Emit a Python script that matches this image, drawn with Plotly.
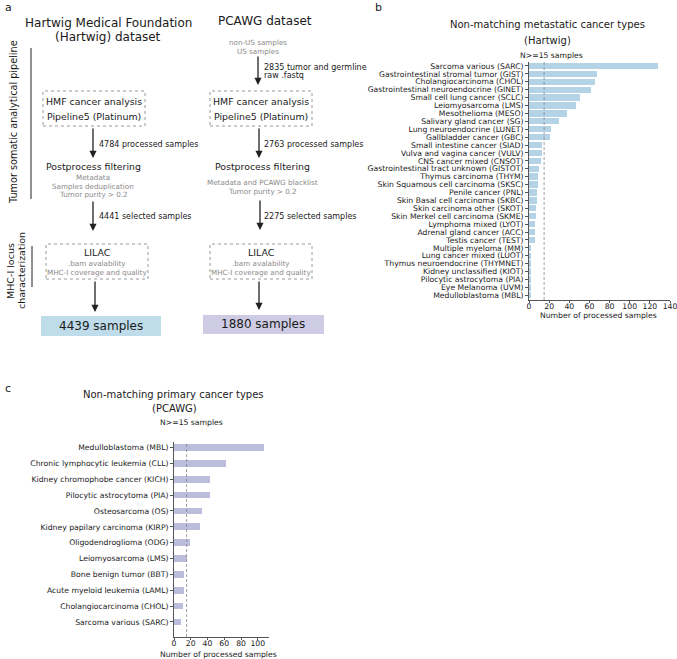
import plotly.graph_objects as go

W, H = 677, 659

# ---------------- data ----------------
met_types = [
    "Sarcoma various (SARC)", "Gastrointestinal stromal tumor (GIST)", "Cholangiocarcinoma (CHOL)",
    "Gastrointestinal neuroendocrine (GINET)", "Small cell lung cancer (SCLC)", "Leiomyosarcoma (LMS)",
    "Mesothelioma (MESO)", "Salivary gland cancer (SG)", "Lung neuroendocrine (LUNET)",
    "Gallbladder cancer (GBC)", "Small intestine cancer (SIAD)", "Vulva and vagina cancer (VULV)",
    "CNS cancer mixed (CNSOT)", "Gastrointestinal tract unknown (GISTOT)", "Thymus carcinoma (THYM)",
    "Skin Squamous cell carcinoma (SKSC)", "Penile cancer (PNL)", "Skin Basal cell carcinoma (SKBC)",
    "Skin carcinoma other (SKOT)", "Skin Merkel cell carcinoma (SKME)", "Lymphoma mixed (LYOT)",
    "Adrenal gland cancer (ACC)", "Testis cancer (TEST)", "Multiple myeloma (MM)",
    "Lung cancer mixed (LUOT)", "Thymus neuroendocrine (THYMNET)", "Kidney unclassified (KIOT)",
    "Pilocytic astrocytoma (PIA)", "Eye Melanoma (UVM)", "Medulloblastoma (MBL)",
]
met_counts = [128, 68, 66, 62, 51, 47, 38, 30, 22, 21, 13, 13, 12, 10, 9,
              9, 8, 8, 7, 7, 6, 6, 6, 2, 1, 1, 1, 1, 1, 1]

prim_types = [
    "Medulloblastoma (MBL)", "Chronic lymphocytic leukemia (CLL)", "Kidney chromophobe cancer (KICH)",
    "Pilocytic astrocytoma (PIA)", "Osteosarcoma (OS)", "Kidney papilary carcinoma (KIRP)",
    "Oligodendroglioma (ODG)", "Leiomyosarcoma (LMS)", "Bone benign tumor (BBT)",
    "Acute myeloid leukemia (LAML)", "Cholangiocarcinoma (CHOL)", "Sarcoma various (SARC)",
]
prim_counts = [108, 62, 43, 43, 33, 31, 19, 15, 12, 12, 11, 8]

threshold = 15
x_ticks_b = [0, 20, 40, 60, 80, 100, 120, 140]
x_ticks_c = [0, 20, 40, 60, 80, 100]
x_title = "Number of processed samples"

BLUE = "#b4d3e6"
PURPLE = "#bcbcdc"
TXT = "#1a1a1a"
GRAY = "#8a8a8a"
FONT = "DejaVu Sans"
TICK = 7.7


def px(x):
    return x / W


def py(y):
    return 1 - y / H


fig = go.Figure()

nb = len(met_types)
nc = len(prim_types)

fig.add_trace(go.Bar(x=met_counts, y=met_types, orientation="h", marker_color=BLUE,
                     marker_line_width=0, width=0.8, xaxis="x", yaxis="y", showlegend=False))
fig.add_trace(go.Bar(x=prim_counts, y=prim_types, orientation="h", marker_color=PURPLE,
                     marker_line_width=0, width=0.42, xaxis="x2", yaxis="y2", showlegend=False))

axis_common = dict(showline=True, linecolor="#555", linewidth=0.8, ticks="outside", ticklen=3,
                   tickcolor="#555", tickwidth=0.8, showgrid=False, zeroline=False,
                   tickfont=dict(family=FONT, size=TICK, color=TXT), automargin=False,
                   ticklabeloverflow="allow")
xaxis_extra = dict(ticklen=2, ticklabelstandoff=-3)

fig.update_layout(
    width=W, height=H, margin=dict(l=0, r=0, t=0, b=0),
    paper_bgcolor="white", plot_bgcolor="white", bargap=0,
    font=dict(family=FONT, color=TXT),
    xaxis=dict(domain=[px(529), px(670)], range=[0, 140], tickmode="array", tickvals=x_ticks_b,
               anchor="y", **{**axis_common, **xaxis_extra}),
    yaxis=dict(domain=[py(300), py(62)], type="category", categoryarray=met_types,
               tickmode="array", tickvals=met_types, ticktext=met_types,
               range=[nb - 0.4, -0.5], anchor="x", **axis_common),
    xaxis2=dict(domain=[px(174), px(269)], range=[0, 113.4], tickmode="array", tickvals=x_ticks_c,
                anchor="y2", **{**axis_common, **xaxis_extra}),
    yaxis2=dict(domain=[py(637), py(442)], type="category", categoryarray=prim_types,
                tickmode="array", tickvals=prim_types, ticktext=prim_types,
                range=[nc - 0.05, -0.35], anchor="x2", **axis_common),
)

# threshold dashed lines
for xr, yr in (("x", "y domain"), ("x2", "y2 domain")):
    fig.add_shape(type="line", xref=xr, yref=yr, x0=threshold, x1=threshold, y0=0, y1=1,
                  line=dict(color="#888", width=0.8, dash="3px,2px"))

ann = []


def text(x, y, s, size=10, color=TXT, xanchor="center", angle=0):
    ann.append(dict(x=px(x), y=py(y), xref="paper", yref="paper", text=s, showarrow=False,
                    xanchor=xanchor, yanchor="middle", textangle=angle,
                    font=dict(family=FONT, size=size, color=color)))


def arrow(x, y0, y1):
    ann.append(dict(x=px(x), y=py(y1), xref="paper", yref="paper", ax=0, ay=-(y1 - y0),
                    axref="pixel", ayref="pixel", text="", showarrow=True, arrowhead=2,
                    arrowsize=1.1, arrowwidth=1.3, arrowcolor="#222"))


def box(x0, y0, x1, y1, fill=None):
    if fill:
        fig.add_shape(type="rect", xref="paper", yref="paper", x0=px(x0), x1=px(x1), y0=py(y1), y1=py(y0),
                      fillcolor=fill, line=dict(width=0), layer="below")
    else:
        fig.add_shape(type="rect", xref="paper", yref="paper", x0=px(x0), x1=px(x1), y0=py(y1), y1=py(y0),
                      line=dict(color="#9a9a9a", width=1, dash="dot"))


def vline(x, y0, y1):
    fig.add_shape(type="line", xref="paper", yref="paper", x0=px(x), x1=px(x), y0=py(y1), y1=py(y0),
                  line=dict(color="#222", width=1))


MAIN = 9.4
SMALL = 7.2
LAB = 8
HEAD = 12
PTITLE = 10

# ---------------- panel a ----------------
text(3, 8, "a", 11, xanchor="left")
text(108, 23, "Hartwig Medical Foundation", HEAD)
text(108, 37, "(Hartwig) dataset", HEAD)
text(265, 21, "PCAWG dataset", HEAD)

vline(31, 48, 199)
text(13, 122, "Tumor somatic analytical pipeline", 9.7, angle=-90)
vline(32, 246, 287)
text(10, 271, "MHC-I locus", 9.5, angle=-90)
text(21, 271, "characterization", 9.5, angle=-90)

# Hartwig column
box(43, 91, 145, 126)
text(94, 101, "HMF cancer analysis", MAIN)
text(94, 116, "Pipeline5 (Platinum)", MAIN)
arrow(93, 127, 158)
text(97, 145, "4784 processed samples", LAB, xanchor="left")
text(93, 167, "Postprocess filtering", MAIN)
text(93, 178, "Metadata", SMALL, GRAY)
text(93, 186, "Samples deduplication", SMALL, GRAY)
text(93, 194, "Tumor purity > 0.2", SMALL, GRAY)
arrow(93, 200, 231)
text(97, 216, "4441 selected samples", LAB, xanchor="left")
box(46, 244, 148, 279)
text(97, 252, "LILAC", MAIN)
text(97, 263, ".bam avalability", SMALL, GRAY)
text(97, 272, "MHC-I coverage and quality", SMALL, GRAY)
arrow(95, 280, 312)
box(41, 316, 161, 336, fill="#bfdcea")
text(101, 326, "4439 samples", HEAD)

# PCAWG column
text(258, 42, "non-US samples", SMALL, GRAY)
text(258, 51, "US samples", SMALL, GRAY)
arrow(258, 55, 85)
text(262, 67, "2835 tumor and germline", LAB, xanchor="left")
text(262, 76, "raw .fastq", LAB, xanchor="left")
box(210, 91, 312, 126)
text(261, 101, "HMF cancer analysis", MAIN)
text(261, 116, "Pipeline5 (Platinum)", MAIN)
arrow(259, 127, 158)
text(262, 145, "2763 processed samples", LAB, xanchor="left")
text(262, 167, "Postprocess filtering", MAIN)
text(262, 182, "Metadata and PCAWG blacklist", SMALL, GRAY)
text(262, 191, "Tumor purity > 0.2", SMALL, GRAY)
arrow(260, 199, 230)
text(262, 216, "2275 selected samples", LAB, xanchor="left")
box(210, 244, 312, 279)
text(261, 252, "LILAC", MAIN)
text(261, 263, ".bam avalability", SMALL, GRAY)
text(261, 272, "MHC-I coverage and quality", SMALL, GRAY)
arrow(259, 280, 310)
box(203, 315, 324, 334, fill="#cecce4")
text(263, 324, "1880 samples", HEAD)

# ---------------- panel b ----------------
text(373, 8, "b", 11, xanchor="left")
text(547, 25, "Non-matching metastatic cancer types", PTITLE)
text(547, 40, "(Hartwig)", PTITLE)
text(551, 55, "N>=15 samples", 7.7)
text(598, 315, x_title, TICK)

# ---------------- panel c ----------------
text(3, 388, "c", 11, xanchor="left")
text(173, 394, "Non-matching primary cancer types", PTITLE)
text(174, 408, "(PCAWG)", PTITLE)
text(191, 423, "N>=15 samples", 7.7)
text(219, 654, x_title, TICK)

fig.update_layout(annotations=ann)
fig.write_html("out.html", config={"displayModeBar": False},
               post_script="document.body.style.margin='0';document.body.style.padding='0';")
